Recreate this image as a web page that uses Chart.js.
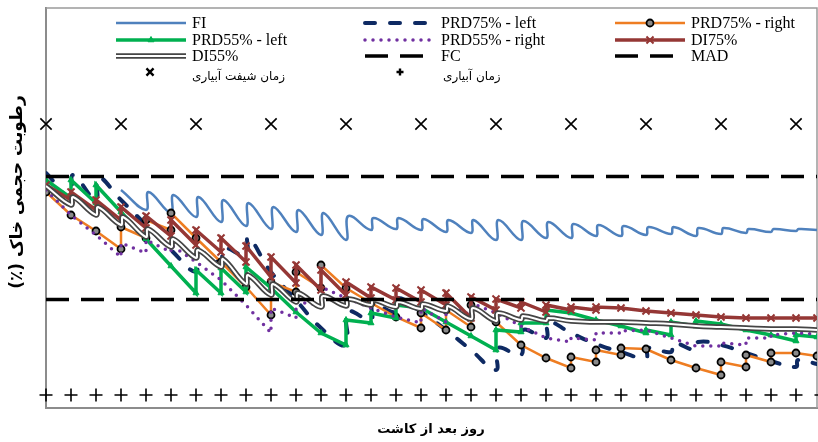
<!DOCTYPE html>
<html lang="fa">
<head>
<meta charset="utf-8">
<title>رطوبت حجمی خاک</title>
<script src="https://cdn.jsdelivr.net/npm/chart.js@4.4.1/dist/chart.umd.min.js"></script>
<style>
  html, body { margin: 0; padding: 0; background: #fff; }
  #wrap { width: 818px; height: 442px; }
</style>
</head>
<body>
<div id="wrap"><canvas id="myChart" width="818" height="442"></canvas></div>
<script>
// x = irrigation number, y = soil moisture; a repeated x is the jump at an irrigation
const fiDay = [3, 4,4.1, 5,5.1, 6,6.1, 7,7.1, 8,8.1, 9,9.1, 10,10.1, 11,11.1, 12,12.1, 13,13.1, 14,14.1, 15,15.1,
  16,16.1, 17,17.1, 18,18.1, 19,19.1, 20,20.1, 21,21.1, 22,22.1, 23,23.1, 24,24.1, 25,25.1, 26,26.1, 27,27.1,
  28,28.1, 29,29.1, 30,30.1, 30.84];
const fiVal = [21.8, 19.8,21.6, 19.5,21.3, 19.1,21.1, 18.6,20.8, 18.2,20.5, 17.9,20.1, 17.6,19.8, 17.3,19.5, 16.8,19.2,
  17.8,19.0, 17.9,19.0, 17.8,18.9, 17.6,18.8, 17.5,18.8, 16.8,18.8, 16.8,18.7, 17.0,18.6, 17.0,18.4, 17.2,18.3,
  17.2,18.2, 17.3,18.1, 17.4,18.1, 17.2,18.0, 17.4,18.0, 17.5,17.9, 17.6,17.9, 17.7,17.9, 17.8];

const prd75LeftDay = [0, 1,1.08, 2,2.08, 3, 4, 5, 6,6.08, 7,7.08, 8,8.08, 9, 10, 11, 12,12.08, 13,13.08, 14,14.08,
  15, 16, 17, 18,18.08, 19,19.08, 20,20.08, 21, 22, 23, 24,24.08, 25,25.08, 26,26.08, 27, 28, 29, 30,30.08, 30.84];
const prd75LeftVal = [23.5, 21.0,23.3, 20.8,23.1, 20.8, 18.3, 15.8, 13.6,15.6, 14.6,16.0, 15.3,17.1, 13.6, 10.8, 8.0,
  6.3,9.6, 8.8,10.3, 9.6,11.0, 9.6, 7.8, 5.8, 3.8,6.0, 5.3,7.8, 7.0,8.6, 7.5, 6.4, 5.6, 5.0,6.0, 5.6,6.5, 5.8,6.6,
  6.3, 5.5, 4.7, 4.1,4.8, 4.4];

const prdRightDay = [0, 1, 2, 3,3, 4,4, 5,5, 6, 7, 8, 9,9, 10,10, 11,11, 12, 13, 14, 15,15, 16,16, 17,17, 18, 19, 20,
  21,21, 22,22, 23,23, 24, 25, 26, 27,27, 28,28, 29,29, 30, 30.84];
const prd75RightVal = [21.6, 19.3, 17.7, 15.9,18.1, 17.0,18.8, 17.8,19.5, 17.0, 14.6, 12.1, 9.3,12.6, 11.6,13.6,
  12.0,14.3, 12.0, 10.5, 9.1, 8.0,9.5, 7.8,9.8, 8.1,10.3, 8.6, 6.3, 5.0, 4.0,5.1, 4.6,5.8, 5.3,6.0, 5.9, 4.8, 4.0,
  3.3,4.6, 4.1,5.3, 4.6,5.5, 5.5, 5.2];
const prd55RightVal = [21.8, 19.3, 17.3, 15.1,16.5, 15.5,16.8, 15.6,16.3, 14.6, 12.8, 10.3, 7.5,10.0, 9.0,10.6,
  10.3,12.1, 11.0, 10.0, 9.1, 8.5,10.0, 8.6,10.3, 9.3,10.5, 9.5, 8.2, 7.0, 6.6,7.0, 6.8,7.5, 7.5,7.7, 7.8, 7.0, 6.2,
  6.2,6.5, 6.3,7.0, 7.0,7.3, 7.5, 7.4];

const prd55LeftDay = [0, 1,1, 2,2, 3, 4, 5, 6,6, 7,7, 8,8, 9, 10, 11, 12,12, 13,13, 14,14, 15, 16, 17, 18,18, 19,19,
  20,20, 21, 22, 23, 24,24, 25,25, 26,26, 27, 28, 29, 30,30, 30.84];
const prd55LeftVal = [22.8, 21.0,22.8, 20.5,22.3, 19.6, 16.9, 14.2, 11.5,13.8, 11.5,14.0, 11.6,14.1, 12.0, 9.6, 7.5,
  6.3,8.8, 8.5,9.5, 9.0,10.3, 10.0, 8.6, 7.2, 5.8,7.8, 7.6,8.5, 8.5,9.8, 9.5, 8.8, 8.2, 7.5,7.8, 7.3,8.6, 8.2,8.7,
  8.4, 7.8, 7.3, 6.7,7.3, 7.1];

const di75Day = [0, 1,1, 2,2, 3,3, 4,4, 5,5, 6,6, 7,7, 8,8, 9,9, 10,10, 11,11, 12,12, 13,13, 14,14, 15,15, 16,16,
  17,17, 18,18, 19,19, 20,20, 21,21, 22,22, 23, 24, 25, 26, 27, 28, 29, 30, 30.84];
const di75Val = [22.3, 20.8,21.6, 19.8,20.8, 18.8,20.1, 18.0,19.2, 17.2,18.8, 16.3,17.8, 15.6,17.0, 14.6,16.2,
  13.1,15.1, 12.5,14.3, 11.8,13.8, 11.3,12.6, 11.0,12.1, 10.8,12.0, 10.6,11.8, 10.3,11.5, 9.0,11.1, 9.8,10.9,
  10.0,10.6, 9.6,10.3, 9.8,10.1, 9.8,10.1, 10.0, 9.7, 9.5, 9.3, 9.1, 9.0, 9.0, 9.0, 9.0];

const di55Day = [0, 1,1.08, 2,2.08, 3,3.08, 4,4.08, 5,5.08, 6,6.08, 7,7.08, 8,8.08, 9,9.08, 10,10.08, 11,11.08,
  12,12.08, 13,13.08, 14,14.08, 15,15.08, 16,16.08, 17,17.08, 18,18.08, 19,19.08, 20,20.08, 21, 22, 23, 24, 25,
  26, 27, 28, 29, 30, 30.84];
const di55Val = [22.2, 20.3,21.1, 19.3,20.1, 18.3,19.1, 17.1,17.9, 16.1,16.9, 15.0,15.8, 14.1,14.9, 12.4,13.3,
  11.3,12.4, 10.6,11.5, 10.1,11.2, 10.2,10.9, 10.3,10.8, 10.1,10.6, 9.9,10.4, 9.7,10.2, 8.9,10.0, 8.7,9.5,
  8.8,9.2, 8.7,9.0, 8.7, 8.6, 8.6, 8.5, 8.4, 8.2, 8.1, 8.0, 7.9, 7.9, 7.8];

const fcVal = 23.15;
const madVal = 10.85;
const lineEnds = [0, 30.84];

const shiftDays = [0, 3, 6, 9, 12, 15, 18, 21, 24, 27, 30];
const irrigDays = [0, 1, 2, 3, 4, 5, 6, 7, 8, 9, 10, 11, 12, 13, 14, 15, 16, 17, 18, 19, 20, 21, 22, 23, 24, 25,
  26, 27, 28, 29, 30, 31];
const shiftRow = 28.4;
const irrigRow = 1.3;

const xTitle = 'روز بعد از کاشت';
const yTitle = 'رطوبت حجمی خاک (٪)';

function toPoints(xs, ys) {
  return xs.map((x, i) => ({ x: x, y: Array.isArray(ys) ? ys[i] : ys }));
}

const fiSet = { label: 'FI', data: toPoints(fiDay, fiVal), borderColor: '#4F81BD', borderWidth: 2.5,
  tension: 0.45, pointRadius: 0, order: 12 };
const prd75LeftSet = { label: 'PRD75% - left', data: toPoints(prd75LeftDay, prd75LeftVal), borderColor: '#0E2A63',
  borderWidth: 4, borderDash: [10, 15], borderCapStyle: 'round', tension: 0.45, pointRadius: 0, order: 11 };
const prd75RightSet = { label: 'PRD75% - right', data: toPoints(prdRightDay, prd75RightVal), borderColor: '#EE7D22',
  borderWidth: 2.5, tension: 0, pointStyle: 'circle', pointRadius: 3.5, pointBackgroundColor: '#8a8a8a',
  pointBorderColor: '#000', pointBorderWidth: 1.8, order: 10 };
const prd55LeftSet = { label: 'PRD55% - left', data: toPoints(prd55LeftDay, prd55LeftVal), borderColor: '#00B050',
  borderWidth: 3.5, tension: 0, pointStyle: 'triangle', pointRadius: 3.5, pointBackgroundColor: '#00B050',
  pointBorderColor: '#00B050', pointBorderWidth: 1, order: 9 };
const prd55RightSet = { label: 'PRD55% - right', data: toPoints(prdRightDay, prd55RightVal), borderColor: '#7030A0',
  borderWidth: 3.5, borderDash: [0, 8], borderCapStyle: 'round', tension: 0, pointRadius: 0, order: 8 };
const di75Set = { label: 'DI75%', data: toPoints(di75Day, di75Val), borderColor: '#953735', borderWidth: 3.5,
  tension: 0, pointStyle: 'crossRot', pointRadius: 5, pointBorderColor: '#953735', pointBorderWidth: 2, order: 7 };
const di55Set = { label: 'DI55%', data: toPoints(di55Day, di55Val), borderColor: '#454545', borderWidth: 5.5,
  tension: 0.45, pointRadius: 0, order: 6 };
const di55Core = { label: 'DI55% core', data: toPoints(di55Day, di55Val), borderColor: '#ffffff', borderWidth: 2,
  tension: 0.45, pointRadius: 0, order: 5.5 };
const fcSet = { label: 'FC', data: toPoints(lineEnds, fcVal), borderColor: '#000', borderWidth: 3.5,
  borderDash: [23, 12], pointRadius: 0, order: 5 };
const madSet = { label: 'MAD', data: toPoints(lineEnds, madVal), borderColor: '#000', borderWidth: 3.5,
  borderDash: [23, 12], pointRadius: 0, order: 4 };
const shiftSet = { label: 'زمان شیفت آبیاری', data: toPoints(shiftDays, shiftRow), showLine: false,
  pointStyle: 'crossRot', pointRadius: 8, pointBorderColor: '#000', pointBorderWidth: 1.6, order: 3, clip: false };
const irrigSet = { label: 'زمان آبیاری', data: toPoints(irrigDays, irrigRow), showLine: false,
  pointStyle: 'cross', pointRadius: 6.5, pointBorderColor: '#000', pointBorderWidth: 1.6, order: 2, clip: false };

const lineSets = [fiSet, prd75LeftSet, prd75RightSet, prd55LeftSet, prd55RightSet, di75Set, di55Set, di55Core, fcSet, madSet];
lineSets.forEach(ds => { ds.showLine = true; ds.fill = false; });

// legend grid: 3 columns x 3 rows, then the two marker rows
const legendRows = [
  [fiSet, prd75LeftSet, prd75RightSet],
  [prd55LeftSet, prd55RightSet, di75Set],
  [di55Set, fcSet, madSet]
];
const legendColX = [116, 365, 615];
const legendRowY = [23, 40, 56];

function drawSample(ctx, ds, x0, x1, y) {
  const h = Chart.helpers;
  ctx.save();
  ctx.lineWidth = ds.borderWidth;
  ctx.strokeStyle = ds.borderColor;
  ctx.lineCap = ds.borderCapStyle || 'butt';
  ctx.setLineDash(ds.borderDash || []);
  ctx.beginPath();
  ctx.moveTo(x0, y);
  ctx.lineTo(x1, y);
  ctx.stroke();
  if (ds === di55Set) {
    ctx.lineWidth = di55Core.borderWidth;
    ctx.strokeStyle = di55Core.borderColor;
    ctx.beginPath();
    ctx.moveTo(x0, y);
    ctx.lineTo(x1, y);
    ctx.stroke();
  }
  ctx.setLineDash([]);
  if (ds.pointRadius > 0) {
    ctx.fillStyle = ds.pointBackgroundColor || ds.borderColor;
    ctx.strokeStyle = ds.pointBorderColor || ds.borderColor;
    ctx.lineWidth = ds.pointBorderWidth;
    h.drawPoint(ctx, { pointStyle: ds.pointStyle, radius: ds.pointRadius, borderWidth: ds.pointBorderWidth, rotation: 0 },
      (x0 + x1) / 2, y);
  }
  ctx.restore();
}

const extrasPlugin = {
  id: 'extras',
  beforeDatasetsDraw(chart) {
    const { ctx, chartArea: a } = chart;
    ctx.save();
    ctx.strokeStyle = '#9a9a9a';
    ctx.lineWidth = 1.5;
    ctx.beginPath();
    ctx.moveTo(a.left, a.top);
    ctx.lineTo(a.right, a.top);
    ctx.lineTo(a.right, a.bottom);
    ctx.stroke();
    ctx.restore();
  },
  afterDraw(chart) {
    const ctx = chart.ctx;
    ctx.save();
    ctx.fillStyle = '#000';
    ctx.textBaseline = 'middle';
    ctx.textAlign = 'left';
    ctx.font = '16px "Liberation Serif"';
    legendRows.forEach((row, r) => {
      row.forEach((ds, c) => {
        const x0 = legendColX[c];
        drawSample(ctx, ds, x0, x0 + 70, legendRowY[r]);
        ctx.fillText(ds.label, x0 + 76, legendRowY[r] + 1);
      });
    });

    // marker-only entries
    const h = Chart.helpers;
    ctx.strokeStyle = '#000';
    ctx.lineWidth = 2.4;
    h.drawPoint(ctx, { pointStyle: 'crossRot', radius: 5, borderWidth: 2.4, rotation: 0 }, 150, 72);
    h.drawPoint(ctx, { pointStyle: 'cross', radius: 3.5, borderWidth: 2.4, rotation: 0 }, 400, 72);
    ctx.direction = 'rtl';
    ctx.font = '12px "DejaVu Sans"';
    ctx.textAlign = 'left';
    ctx.fillText(shiftSet.label, 192, 77);
    ctx.fillText(irrigSet.label, 443, 77);

    // axis titles
    ctx.textAlign = 'center';
    ctx.font = 'bold 13px "DejaVu Sans"';
    ctx.fillText(xTitle, 431, 430);
    ctx.font = 'bold 17px "DejaVu Sans"';
    ctx.translate(18, 192);
    ctx.rotate(-Math.PI / 2);
    ctx.fillText(yTitle, 0, 0);
    ctx.restore();
  }
};

const ctx = document.getElementById('myChart').getContext('2d');
const chart = new Chart(ctx, {
  type: 'scatter',
  data: {
    datasets: [fiSet, prd75LeftSet, prd75RightSet, prd55LeftSet, prd55RightSet, di75Set, di55Set, di55Core,
      fcSet, madSet, shiftSet, irrigSet]
  },
  options: {
    responsive: false,
    animation: false,
    devicePixelRatio: 1,
    layout: { autoPadding: false, padding: { top: 8, right: 1, left: 0, bottom: 0 } },
    plugins: { legend: { display: false }, tooltip: { enabled: false } },
    scales: {
      x: {
        type: 'linear', min: 0, max: 30.84,
        grid: { display: false, drawTicks: false },
        ticks: { display: false },
        border: { display: true, color: '#8c8c8c', width: 2 },
        afterFit: s => { s.height = 34; }
      },
      y: {
        min: 0, max: 40,
        grid: { display: false, drawTicks: false },
        ticks: { display: false },
        border: { display: true, color: '#8c8c8c', width: 2 },
        afterFit: s => { s.width = 46; }
      }
    }
  },
  plugins: [extrasPlugin]
});
</script>
</body>
</html>
